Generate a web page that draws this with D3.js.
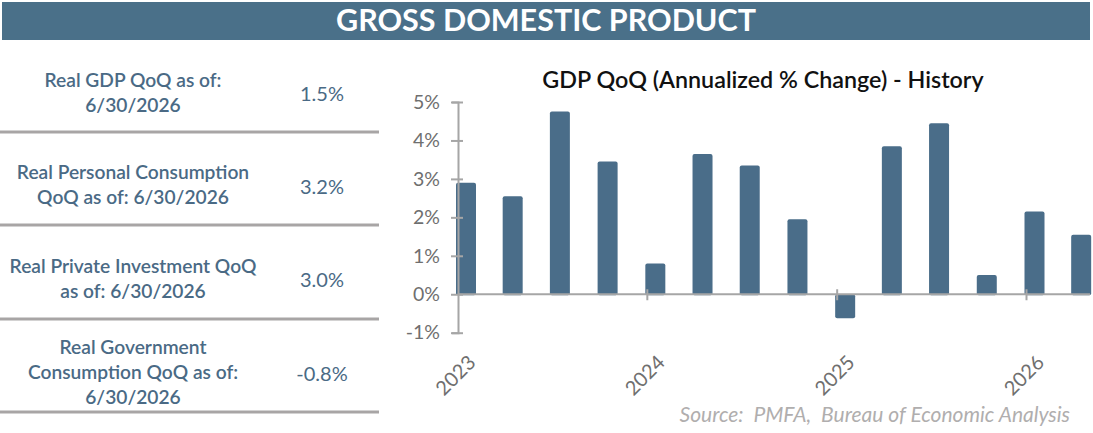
<!DOCTYPE html>
<html>
<head lang="en">
    <meta charset="UTF-8">
    <title>Gross Domestic Product</title>
    <style>
        body { margin: 0; background: #fff; }
        svg text { font-family: Lato, "Open Sans", sans-serif; }
    </style>
</head>
<body>
<div id="chart"></div>

<script src="https://cdn.jsdelivr.net/npm/d3@7"></script>
<script>
    // table on the left
    var rowLabels = [
        ["Real GDP QoQ as of:", "6/30/2026"],
        ["Real Personal Consumption", "QoQ as of: 6/30/2026"],
        ["Real Private Investment QoQ", "as of: 6/30/2026"],
        ["Real Government", "Consumption QoQ as of:", "6/30/2026"]
    ];
    var rowValues = ["1.5%", "3.2%", "3.0%", "-0.8%"];

    // bar chart data
    var quarters = ["2023-01", "2023-04", "2023-07", "2023-10",
                    "2024-01", "2024-04", "2024-07", "2024-10",
                    "2025-01", "2025-04", "2025-07", "2025-10",
                    "2026-01", "2026-04"];
    var gdpQoq = [2.9, 2.55, 4.75, 3.45, 0.8, 3.65, 3.35, 1.95, -0.6, 3.85, 4.45, 0.5, 2.15, 1.55];
    var yTicks = [-1, 0, 1, 2, 3, 4, 5];
    var yearTicks = ["2023", "2024", "2025", "2026"];

    var W = 1093, H = 433;
    var blue = "#4a6d89", grid = "#a6a6a6";
    var parse = d3.timeParse("%Y-%m");

    var svg = d3.select("#chart").append("svg")
        .attr("width", W)
        .attr("height", H);

    // header bar
    svg.append("rect")
        .attr("x", 2).attr("y", 2)
        .attr("width", 1088).attr("height", 38)
        .attr("fill", "#4a7089");
    svg.append("text")
        .attr("x", 546).attr("y", 31)
        .attr("text-anchor", "middle")
        .attr("fill", "#fff")
        .attr("font-size", 30.5)
        .attr("font-weight", 700)
        .text("GROSS DOMESTIC PRODUCT");

    // left table
    var rowTop = [40, 132, 225, 319];
    var rowBottom = [132, 225, 319, 412];
    rowLabels.forEach(function(lines, i) {
        var mid = (rowTop[i] + rowBottom[i]) / 2 + 4;
        var lh = 25;
        var first = mid - (lines.length - 1) * lh / 2;
        var t = svg.append("text")
            .attr("text-anchor", "middle")
            .attr("fill", "#4a6a85")
            .attr("font-size", 19.2)
            .attr("font-weight", 600);
        lines.forEach(function(l, j) {
            t.append("tspan")
                .attr("x", 133)
                .attr("y", first + j * lh + 9)
                .text(l);
        });
        svg.append("text")
            .attr("x", 322).attr("y", mid + 11)
            .attr("text-anchor", "middle")
            .attr("fill", "#4a6a85")
            .attr("font-size", 20)
            .text(rowValues[i]);
        svg.append("line")
            .attr("x1", 0).attr("x2", 379)
            .attr("y1", rowBottom[i]).attr("y2", rowBottom[i])
            .attr("stroke", "#a8a5a5")
            .attr("stroke-width", 3);
    });

    // chart
    var x = d3.scaleTime()
        .domain([parse("2023-01"), parse("2026-01")])
        .range([458, 1026.5]);
    var y = d3.scaleLinear()
        .domain([-1, 5])
        .range([332.7, 102]);

    svg.append("text")
        .attr("x", 763).attr("y", 88)
        .attr("text-anchor", "middle")
        .attr("fill", "#111")
        .attr("font-size", 23.3)
        .attr("font-weight", 600)
        .text("GDP QoQ (Annualized % Change) - History");

    // bars
    svg.selectAll("rect.bar")
        .data(gdpQoq)
        .enter().append("rect")
        .attr("class", "bar")
        .attr("x", function(d, i) { return x(parse(quarters[i])) - 2; })
        .attr("width", 20)
        .attr("y", function(d) { return d >= 0 ? y(d) : y(0); })
        .attr("height", function(d) { return Math.abs(y(d) - y(0)) + 1; })
        .attr("rx", 2)
        .attr("fill", blue);

    // y axis
    var yAxis = d3.axisLeft(y)
        .tickValues(yTicks)
        .tickSize(6)
        .tickFormat(function(d) { return d + "%"; });
    var gy = svg.append("g")
        .attr("transform", "translate(458,0)")
        .call(yAxis);
    gy.select(".domain").attr("stroke", grid).attr("stroke-width", 2);
    gy.selectAll(".tick line").attr("stroke", grid).attr("stroke-width", 2).attr("x2", 5).attr("x1", -7);
    gy.selectAll(".tick text")
        .attr("x", -18)
        .attr("fill", "#6f6f6f")
        .attr("font-size", 19.5)
        .attr("font-family", "Lato, sans-serif");

    // zero line
    svg.append("line")
        .attr("x1", 458).attr("x2", 1090)
        .attr("y1", y(0)).attr("y2", y(0))
        .attr("stroke", grid)
        .attr("stroke-width", 2);

    // year ticks
    var years = yearTicks.map(function(s) { return d3.timeParse("%Y")(s); });
    svg.selectAll("line.ytick")
        .data(years.slice(1))
        .enter().append("line")
        .attr("x1", function(d) { return x(d); })
        .attr("x2", function(d) { return x(d); })
        .attr("y1", y(0) - 5).attr("y2", y(0) + 6)
        .attr("stroke", grid)
        .attr("stroke-width", 2);
    svg.selectAll("text.year")
        .data(years)
        .enter().append("text")
        .attr("transform", function(d) { return "translate(" + (x(d) + 9) + ",354) rotate(-45)"; })
        .attr("text-anchor", "end")
        .attr("dy", "0.7em")
        .attr("fill", "#6f6f6f")
        .attr("font-size", 20)
        .text(function(d, i) { return yearTicks[i]; });

    // source
    svg.append("text")
        .attr("x", 1070).attr("y", 422)
        .attr("text-anchor", "end")
        .attr("fill", "#b0aeae")
        .attr("font-size", 21)
        .attr("font-style", "italic")
        .attr("xml:space", "preserve")
        .text("Source:  PMFA,  Bureau of Economic Analysis");
</script>
</body>
</html>
